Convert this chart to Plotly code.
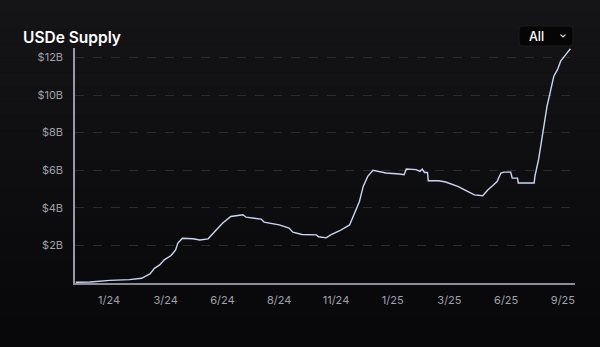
import plotly.graph_objects as go

# ---- data ----
dates = [
    "2023-11-21", "2023-12-10", "2024-01-05", "2024-01-31", "2024-02-16", "2024-02-27",
    "2024-03-04", "2024-03-11", "2024-03-17", "2024-03-26", "2024-04-01", "2024-04-04",
    "2024-04-10", "2024-04-24", "2024-05-03", "2024-05-14", "2024-05-25", "2024-06-02",
    "2024-06-13", "2024-06-29", "2024-07-03", "2024-07-23", "2024-07-27", "2024-08-16",
    "2024-08-29", "2024-09-03", "2024-09-15", "2024-10-04", "2024-10-07", "2024-10-17",
    "2024-10-23", "2024-11-04", "2024-11-17", "2024-11-23", "2024-11-30", "2024-12-05",
    "2024-12-11", "2024-12-18", "2025-01-04", "2025-01-22", "2025-01-28", "2025-01-31",
    "2025-02-13", "2025-02-18", "2025-02-21", "2025-02-24", "2025-02-28", "2025-03-01",
    "2025-03-15", "2025-03-24", "2025-04-02", "2025-04-09", "2025-04-20", "2025-05-01",
    "2025-05-12", "2025-05-19", "2025-05-25", "2025-05-31", "2025-06-05", "2025-06-09",
    "2025-06-18", "2025-06-20", "2025-06-27", "2025-06-28", "2025-07-19", "2025-07-20",
    "2025-07-25", "2025-07-30", "2025-08-03", "2025-08-05", "2025-08-10", "2025-08-14",
    "2025-08-19", "2025-08-23", "2025-08-30", "2025-09-05",
]
supply_billion = [
    0.04, 0.05, 0.14, 0.18, 0.25, 0.48,
    0.78, 0.96, 1.23, 1.46, 1.76, 2.12,
    2.38, 2.35, 2.29, 2.35, 2.83, 3.18,
    3.54, 3.63, 3.50, 3.40, 3.24, 3.09,
    2.92, 2.70, 2.58, 2.56, 2.46, 2.40,
    2.56, 2.78, 3.09, 3.63, 4.34, 5.14,
    5.67, 5.99, 5.85, 5.80, 5.76, 6.06,
    6.03, 5.94, 6.06, 5.88, 5.88, 5.44,
    5.44, 5.37, 5.23, 5.14, 4.91, 4.69,
    4.64, 4.96, 5.17, 5.40, 5.85, 5.90,
    5.90, 5.58, 5.58, 5.32, 5.32, 5.67,
    6.60, 7.80, 8.69, 9.40, 10.29, 11.00,
    11.36, 11.80, 12.16, 12.46,
]
supply = [v * 1e9 for v in supply_billion]

x_tick_dates = ["2024-01-04", "2024-03-19", "2024-06-02", "2024-08-16", "2024-10-30",
                "2025-01-13", "2025-03-29", "2025-06-12", "2025-08-26"]
x_tick_labels = ["1/24", "3/24", "6/24", "8/24", "11/24", "1/25", "3/25", "6/25", "9/25"]
y_tick_values = [2e9, 4e9, 6e9, 8e9, 10e9, 12e9]
y_tick_labels = ["$2B", "$4B", "$6B", "$8B", "$10B", "$12B"]

# ---- layout geometry ----
W, H = 600, 347
L, R, T, B = 75, 25, 48, 64
PW, PH = W - L - R, H - T - B


def px(x):
    return (x - L) / PW


def py(y):
    return (H - B - y) / PH


fig = go.Figure()
fig.add_trace(go.Scatter(
    x=dates, y=supply, mode="lines",
    line=dict(color="#cdd5f2", width=1.4),
    hoverinfo="skip", showlegend=False,
))

shapes = []
# subtle background gradient bands
n = 24
for i in range(n):
    t = i / (n - 1)
    c = int(21 - 13 * t)
    shapes.append(dict(type="rect", xref="paper", yref="paper", layer="below",
                       x0=px(0), x1=px(W), y0=py(i * H / n), y1=py((i + 1) * H / n),
                       fillcolor=f"rgb({c},{c},{c + 2})", line=dict(width=0)))
# dropdown box
bx0, bx1, by0, by1, r = 519, 573, 26, 46, 3
path = (f"M {px(bx0 + r)},{py(by0)} L {px(bx1 - r)},{py(by0)} "
        f"Q {px(bx1)},{py(by0)} {px(bx1)},{py(by0 + r)} L {px(bx1)},{py(by1 - r)} "
        f"Q {px(bx1)},{py(by1)} {px(bx1 - r)},{py(by1)} L {px(bx0 + r)},{py(by1)} "
        f"Q {px(bx0)},{py(by1)} {px(bx0)},{py(by1 - r)} L {px(bx0)},{py(by0 + r)} "
        f"Q {px(bx0)},{py(by0)} {px(bx0 + r)},{py(by0)} Z")
shapes.append(dict(type="path", xref="paper", yref="paper", path=path,
                   fillcolor="#050505", line=dict(color="#1c1c1e", width=1)))
# chevron
shapes.append(dict(type="path", xref="paper", yref="paper",
                   path=f"M {px(560.5)},{py(34.5)} L {px(563)},{py(37)} L {px(565.5)},{py(34.5)}",
                   line=dict(color="#d8d8d8", width=1.1)))

fig.update_layout(
    width=W, height=H,
    margin=dict(l=L, r=R, t=T, b=B),
    paper_bgcolor="#0e0e10",
    plot_bgcolor="rgba(0,0,0,0)",
    font=dict(family="Inter, Roboto, sans-serif", color="#a0a0ab", size=11),
    shapes=shapes,
    annotations=[
        dict(text="USDe Supply", xref="paper", yref="paper", x=px(21), y=py(37),
             xanchor="left", yanchor="middle", showarrow=False,
             font=dict(size=15.5, color="#ffffff", family="Inter, sans-serif", weight=600)),
        dict(text="All", xref="paper", yref="paper", x=px(527), y=py(36.5),
             xanchor="left", yanchor="middle", showarrow=False,
             font=dict(size=12.5, color="#ffffff", family="Inter, sans-serif", weight=500)),
    ],
    xaxis=dict(
        type="date",
        range=["2023-11-20", "2025-09-11"],
        tickmode="array", tickvals=x_tick_dates, ticktext=x_tick_labels,
        showgrid=False, zeroline=False,
        showline=True, linecolor="#8c8c98", linewidth=1.5,
        ticks="", ticklabelstandoff=6,
        tickfont=dict(size=11, color="#a0a0ab"),
        fixedrange=True,
    ),
    yaxis=dict(
        range=[0, 12.5e9],
        tickmode="array", tickvals=y_tick_values, ticktext=y_tick_labels,
        showgrid=True, gridcolor="#2a2a2f", griddash="dash", gridwidth=1,
        zeroline=False,
        showline=True, linecolor="#9a9aa6", linewidth=1.5,
        ticks="", ticklabelstandoff=8,
        tickfont=dict(size=11, color="#a0a0ab"),
        fixedrange=True,
    ),
)

fig.write_html(
    "out.html",
    config={"displayModeBar": False},
    post_script="document.body.style.margin='0';document.body.style.padding='0';"
                "document.body.style.overflow='hidden';document.body.style.background='#0e0e10';",
)
